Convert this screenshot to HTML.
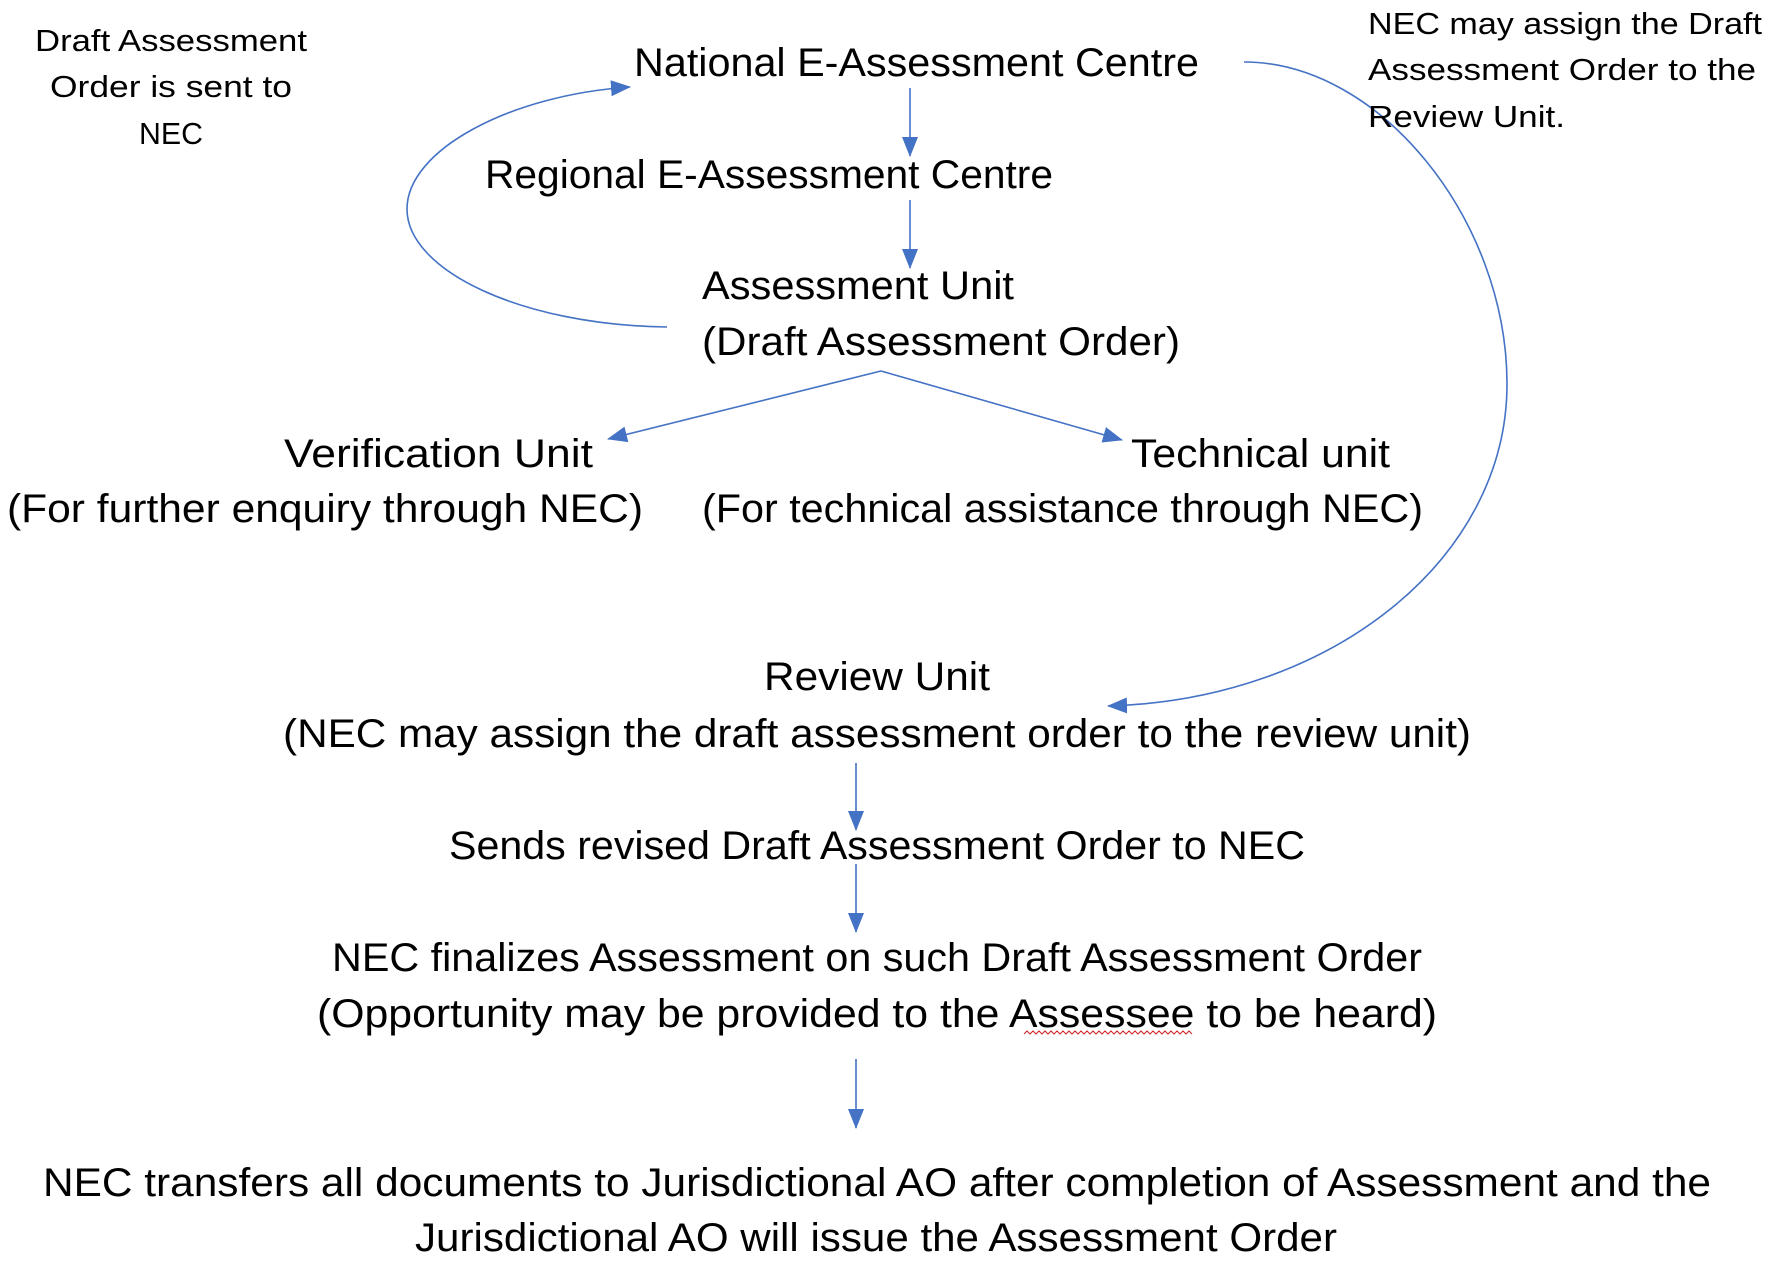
<!DOCTYPE html>
<html><head><meta charset="utf-8"><style>
html,body{margin:0;padding:0;background:#fff}
svg text{font-family:"Liberation Sans",sans-serif;fill:#000}
</style></head><body>
<svg width="1770" height="1268" viewBox="0 0 1770 1268" xmlns="http://www.w3.org/2000/svg">
<defs>
<marker id="a" markerWidth="10" markerHeight="10" refX="9" refY="5" orient="auto" markerUnits="userSpaceOnUse" viewBox="0 0 10 10">
</marker>
<marker id="ah" viewBox="0 0 20 16" refX="19" refY="8" markerWidth="20" markerHeight="16" orient="auto" markerUnits="userSpaceOnUse">
<path d="M0,0 L20,8 L0,16 Z" fill="#4472C4"/>
</marker>
</defs>
<g stroke="#4472C4" stroke-width="1.6" fill="none">
<line x1="910" y1="88" x2="910" y2="156" marker-end="url(#ah)"/>
<line x1="910" y1="200" x2="910" y2="268" marker-end="url(#ah)"/>
<polyline points="881,371 608,439" marker-end="url(#ah)"/>
<polyline points="881,371 1122,440" marker-end="url(#ah)"/>
<path d="M667,327 C520,325 407,270 407,209 C407,150 510,95 630,87" marker-end="url(#ah)"/>
<path d="M1244,62 C1380,62 1507,220 1507,384 C1507,560 1330,700 1108,706" marker-end="url(#ah)"/>
<line x1="856" y1="763" x2="856" y2="830" marker-end="url(#ah)"/>
<line x1="856" y1="864" x2="856" y2="932" marker-end="url(#ah)"/>
<line x1="856" y1="1059" x2="856" y2="1128" marker-end="url(#ah)"/>
</g>
<path d="M1024,1034 l3,-3 l3,3 l3,-3 l3,3 l3,-3 l3,3 l3,-3 l3,3 l3,-3 l3,3 l3,-3 l3,3 l3,-3 l3,3 l3,-3 l3,3 l3,-3 l3,3 l3,-3 l3,3 l3,-3 l3,3 l3,-3 l3,3 l3,-3 l3,3 l3,-3 l3,3 l3,-3 l3,3 l3,-3 l3,3 l3,-3 l3,3 l3,-3 l3,3 l3,-3 l3,3 l3,-3 l3,3 l3,-3 l3,3 l3,-3 l3,3 l3,-3 l3,3 l3,-3 l3,3 l3,-3 l3,3 l3,-3 l3,3 l3,-3 l3,3 l3,-3 l3,3" stroke="#d02020" stroke-width="1" fill="none"/>
<g font-size="31">
<text x="171" y="51" text-anchor="middle" textLength="272" lengthAdjust="spacingAndGlyphs">Draft Assessment</text>
<text x="171" y="97" text-anchor="middle" textLength="242" lengthAdjust="spacingAndGlyphs">Order is sent to</text>
<text x="171" y="144" text-anchor="middle" textLength="64" lengthAdjust="spacingAndGlyphs">NEC</text>
<text x="1368" y="34" textLength="394" lengthAdjust="spacingAndGlyphs">NEC may assign the Draft</text>
<text x="1368" y="80" textLength="388" lengthAdjust="spacingAndGlyphs">Assessment Order to the</text>
<text x="1368" y="127" textLength="197" lengthAdjust="spacingAndGlyphs">Review Unit.</text>
</g>
<g font-size="40">
<text x="634" y="76" textLength="565" lengthAdjust="spacingAndGlyphs">National E-Assessment Centre</text>
<text x="485" y="188" textLength="568" lengthAdjust="spacingAndGlyphs">Regional E-Assessment Centre</text>
<text x="702" y="299" textLength="312" lengthAdjust="spacingAndGlyphs">Assessment Unit</text>
<text x="702" y="355" textLength="478" lengthAdjust="spacingAndGlyphs">(Draft Assessment Order)</text>
<text x="284" y="467" textLength="309" lengthAdjust="spacingAndGlyphs">Verification Unit</text>
<text x="7" y="522" textLength="636" lengthAdjust="spacingAndGlyphs">(For further enquiry through NEC)</text>
<text x="1131" y="467" textLength="259" lengthAdjust="spacingAndGlyphs">Technical unit</text>
<text x="702" y="522" textLength="721" lengthAdjust="spacingAndGlyphs">(For technical assistance through NEC)</text>
<text x="764" y="690" textLength="226" lengthAdjust="spacingAndGlyphs">Review Unit</text>
<text x="283" y="747" textLength="1188" lengthAdjust="spacingAndGlyphs">(NEC may assign the draft assessment order to the review unit)</text>
<text x="449" y="859" textLength="856" lengthAdjust="spacingAndGlyphs">Sends revised Draft Assessment Order to NEC</text>
<text x="332" y="971" textLength="1090" lengthAdjust="spacingAndGlyphs">NEC finalizes Assessment on such Draft Assessment Order</text>
<text x="317" y="1027" textLength="1120" lengthAdjust="spacingAndGlyphs">(Opportunity may be provided to the Assessee to be heard)</text>
<text x="43" y="1196" textLength="1668" lengthAdjust="spacingAndGlyphs">NEC transfers all documents to Jurisdictional AO after completion of Assessment and the</text>
<text x="415" y="1251" textLength="922" lengthAdjust="spacingAndGlyphs">Jurisdictional AO will issue the Assessment Order</text>
</g>
</svg>
</body></html>
